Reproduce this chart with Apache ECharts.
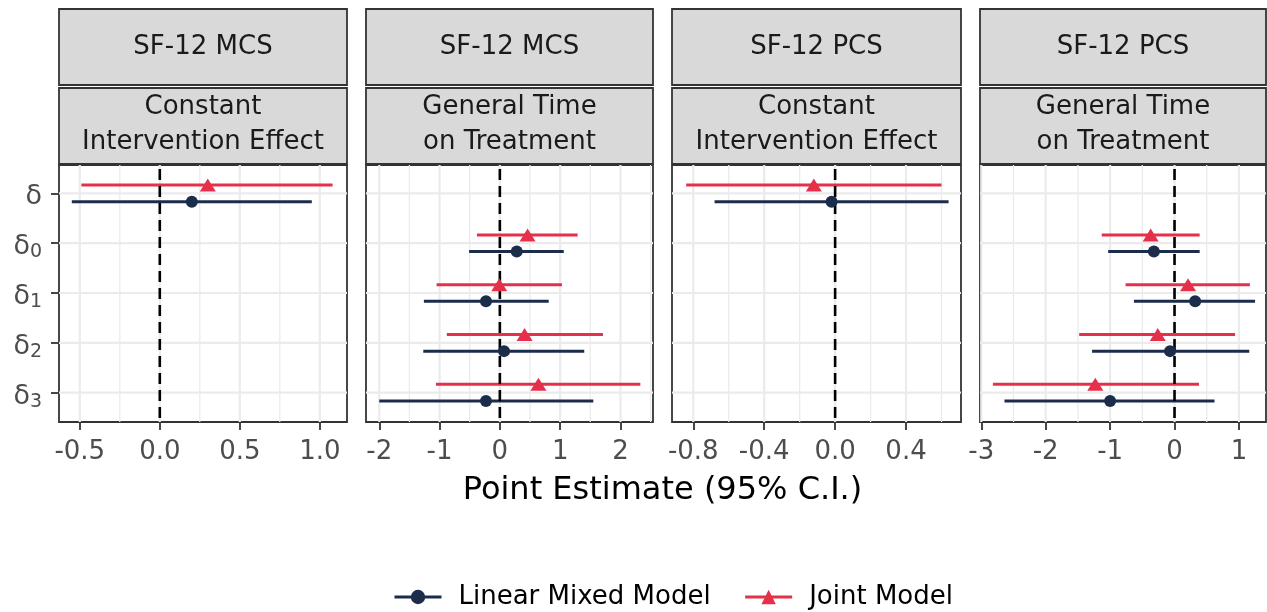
<!DOCTYPE html>
<html><head><meta charset="utf-8">
<script src="https://cdn.jsdelivr.net/npm/echarts@6/dist/echarts.min.js"></script>
<style>html,body{margin:0;padding:0;background:#fff}#c{width:1267px;height:612px}</style>
</head><body><div id="c"></div>
<script>
// ---------- data ----------
const categories = ['δ', 'δ0', 'δ1', 'δ2', 'δ3'];
const stripOutcome = ['SF-12 MCS', 'SF-12 MCS', 'SF-12 PCS', 'SF-12 PCS'];
const stripModel = ['Constant\nIntervention Effect', 'General Time\non Treatment', 'Constant\nIntervention Effect', 'General Time\non Treatment'];
const seriesNames = ['Linear Mixed Model', 'Joint Model'];
// per panel: category index for each estimate
const panelCats = [[0], [1, 2, 3, 4], [0], [1, 2, 3, 4]];
const lmmEst = [[0.20], [0.28, -0.23, 0.07, -0.23], [-0.02], [-0.32, 0.32, -0.07, -1.00]];
const lmmLo  = [[-0.55], [-0.51, -1.26, -1.27, -2.00], [-0.68], [-1.03, -0.63, -1.28, -2.64]];
const lmmHi  = [[0.95], [1.06, 0.81, 1.40, 1.55], [0.64], [0.39, 1.25, 1.16, 0.62]];
const jmEst  = [[0.30], [0.46, -0.01, 0.41, 0.64], [-0.12], [-0.37, 0.21, -0.26, -1.23]];
const jmLo   = [[-0.49], [-0.38, -1.05, -0.88, -1.06], [-0.84], [-1.13, -0.76, -1.48, -2.82]];
const jmHi   = [[1.08], [1.29, 1.03, 1.71, 2.33], [0.60], [0.39, 1.17, 0.94, 0.38]];
// axis limits and ticks
const xMin = [-0.63, -2.22, -0.92, -3.02];
const xMax = [1.17, 2.54, 0.71, 1.42];
const xTicks = [[-0.5, 0, 0.5, 1.0], [-2, -1, 0, 1, 2], [-0.8, -0.4, 0, 0.4], [-3, -2, -1, 0, 1]];
const xTickLabels = [['-0.5', '0.0', '0.5', '1.0'], ['-2', '-1', '0', '1', '2'], ['-0.8', '-0.4', '0.0', '0.4'], ['-3', '-2', '-1', '0', '1']];
const xMinorTicks = [[-0.25, 0.25, 0.75], [-1.5, -0.5, 0.5, 1.5, 2.5], [-0.6, -0.2, 0.2, 0.6], [-2.5, -1.5, -0.5, 0.5]];
const yTicks = [0, 1, 2, 3, 4];
const yMin = -0.57, yMax = 4.59;
const refLine = 0;
const xTitle = 'Point Estimate (95% C.I.)';

// ---------- layout / style ----------
const FONT = 'DejaVu Sans';
const PANEL_LEFT = [59, 366, 672, 980];
const PANEL_WIDTH = [288, 287, 289, 286];
const PANEL_TOP = 165, PANEL_HEIGHT = 257;
const STRIP1_TOP = 9, STRIP_H = 76, STRIP2_TOP = 88;
const DODGE = 0.167;
const C_LMM = '#1b2d4b', C_JM = '#e6304b';
const BORDER = '#333333', GRIDC = '#ebebeb';

const grid = [], xAxis = [], yAxis = [], series = [], graphic = [];

// legend-only series
series.push({ name: seriesNames[0], type: 'line', xAxisIndex: 0, yAxisIndex: 0, data: [],
  symbol: 'circle', symbolSize: 11, itemStyle: { color: C_LMM }, lineStyle: { color: C_LMM, width: 3 } });
series.push({ name: seriesNames[1], type: 'line', xAxisIndex: 0, yAxisIndex: 0, data: [],
  symbol: 'triangle', symbolSize: [16, 13], itemStyle: { color: C_JM }, lineStyle: { color: C_JM, width: 3 } });

function labelFor(p, v) {
  let best = 0;
  xTicks[p].forEach((t, i) => { if (Math.abs(t - v) < Math.abs(xTicks[p][best] - v)) best = i; });
  return xTickLabels[p][best];
}

for (let p = 0; p < 4; p++) {
  grid.push({ left: PANEL_LEFT[p], width: PANEL_WIDTH[p], top: PANEL_TOP, height: PANEL_HEIGHT,
    show: true, borderColor: BORDER, borderWidth: 1.8, backgroundColor: '#fff', z: 0 });
  xAxis.push({ type: 'value', gridIndex: p, min: xMin[p], max: xMax[p], position: 'bottom',
    axisLine: { show: false, onZero: false }, splitLine: { show: false },
    axisTick: { show: true, customValues: xTicks[p], length: 8, lineStyle: { color: BORDER, width: 1.8 } },
    axisLabel: { show: true, customValues: xTicks[p], margin: 17, color: '#4d4d4d', fontSize: 26, fontFamily: FONT,
      formatter: (v) => labelFor(p, v) } });
  yAxis.push({ type: 'value', gridIndex: p, min: yMin, max: yMax, inverse: true, position: 'left',
    axisLine: { show: false, onZero: false }, splitLine: { show: false },
    axisTick: { show: p === 0, customValues: yTicks, length: 8, lineStyle: { color: BORDER, width: 1.8 } },
    axisLabel: { show: p === 0, customValues: yTicks, margin: 17,
      formatter: (v) => {
        const c = categories[Math.round(v)];
        return c.length > 1 ? '{d|' + c[0] + '}{s|' + c.slice(1) + '}' : '{d|' + c + '}';
      },
      rich: {
        d: { fontSize: 27, color: '#4d4d4d', fontFamily: FONT, padding: [8, 0, 0, 0] },
        s: { fontSize: 19, color: '#4d4d4d', fontFamily: FONT, padding: [18, 0, 0, 0] }
      } } });

  // grid lines
  const gl = [];
  xMinorTicks[p].forEach(v => gl.push([v, 1]));
  xTicks[p].forEach(v => gl.push([v, 0]));
  yTicks.forEach(v => gl.push([v, 2]));
  series.push({ type: 'custom', xAxisIndex: p, yAxisIndex: p, z: 1, silent: true, clip: true,
    data: gl.map(d => ({ value: [d[0], d[1]] })),
    renderItem: (params, api) => {
      const cs = params.coordSys; const v = api.value(0); const kind = api.value(1);
      if (kind === 2) {
        const y = api.coord([xMin[p], v])[1];
        return { type: 'line', shape: { x1: cs.x, y1: y, x2: cs.x + cs.width, y2: y }, style: { stroke: GRIDC, lineWidth: 2.2 } };
      }
      const x = api.coord([v, 0])[0];
      return { type: 'line', shape: { x1: x, y1: cs.y, x2: x, y2: cs.y + cs.height },
        style: { stroke: GRIDC, lineWidth: kind === 0 ? 2.2 : 1.3 } };
    } });

  // reference dashed line
  series.push({ type: 'custom', xAxisIndex: p, yAxisIndex: p, z: 3, silent: true,
    data: [[refLine, 0]],
    renderItem: (params, api) => {
      const cs = params.coordSys; const x = api.coord([api.value(0), 0])[0];
      return { type: 'line', shape: { x1: x, y1: cs.y + 4, x2: x, y2: cs.y + cs.height },
        style: { stroke: '#000', lineWidth: 2.6, lineDash: [11, 6] } };
    } });

  // error bars + points
  const models = [
    { est: lmmEst, lo: lmmLo, hi: lmmHi, off: DODGE, color: C_LMM, symbol: 'circle', size: 12 },
    { est: jmEst, lo: jmLo, hi: jmHi, off: -DODGE, color: C_JM, symbol: 'triangle', size: [16, 13] }
  ];
  models.forEach((m) => {
    series.push({ type: 'custom', xAxisIndex: p, yAxisIndex: p, z: 2, silent: true,
      data: panelCats[p].map((c, i) => [m.lo[p][i], m.hi[p][i], c + m.off]),
      encode: { x: [0, 1], y: 2 },
      renderItem: (params, api) => {
        const a = api.coord([api.value(0), api.value(2)]);
        const b = api.coord([api.value(1), api.value(2)]);
        return { type: 'line', shape: { x1: a[0], y1: a[1], x2: b[0], y2: b[1] },
          style: { stroke: m.color, lineWidth: 3 } };
      } });
    series.push({ type: 'scatter', xAxisIndex: p, yAxisIndex: p, z: 4, silent: true,
      symbol: m.symbol, symbolSize: m.size, itemStyle: { color: m.color, opacity: 1 },
      data: panelCats[p].map((c, i) => [m.est[p][i], c + m.off]) });
  });

  // strips
  const sx = PANEL_LEFT[p], sw = PANEL_WIDTH[p];
  graphic.push({ type: 'rect', shape: { x: sx, y: STRIP1_TOP, width: sw, height: STRIP_H },
    style: { fill: '#d9d9d9', stroke: BORDER, lineWidth: 1.8 } });
  graphic.push({ type: 'rect', shape: { x: sx, y: STRIP2_TOP, width: sw, height: STRIP_H },
    style: { fill: '#d9d9d9', stroke: BORDER, lineWidth: 1.8 } });
  graphic.push({ type: 'text', x: sx + sw / 2, y: STRIP1_TOP + STRIP_H / 2,
    style: { text: stripOutcome[p], fill: '#1a1a1a', font: '26px "' + FONT + '"', align: 'center', verticalAlign: 'middle' } });
  graphic.push({ type: 'text', x: sx + sw / 2, y: STRIP2_TOP + STRIP_H / 2 - 1,
    style: { text: stripModel[p], fill: '#1a1a1a', font: '26px "' + FONT + '"', align: 'center', verticalAlign: 'middle', lineHeight: 35 } });
}

graphic.push({ type: 'text', x: (PANEL_LEFT[0] + PANEL_LEFT[3] + PANEL_WIDTH[3]) / 2, y: 491,
  style: { text: xTitle, fill: '#000', font: '32px "' + FONT + '"', align: 'center', verticalAlign: 'middle' } });

const chart = echarts.init(document.getElementById('c'), null, { renderer: 'canvas' });
chart.setOption({
  animation: false,
  backgroundColor: '#fff',
  textStyle: { fontFamily: FONT },
  grid, xAxis, yAxis, series, graphic,
  legend: { data: seriesNames, left: 393, top: 584, padding: 0, itemWidth: 47, itemHeight: 18, itemGap: 33,
    lineStyle: { width: 3 },
    textStyle: { fontSize: 26, color: '#000', fontFamily: FONT, padding: [0, 0, 0, 12] } }
});
</script></body></html>
